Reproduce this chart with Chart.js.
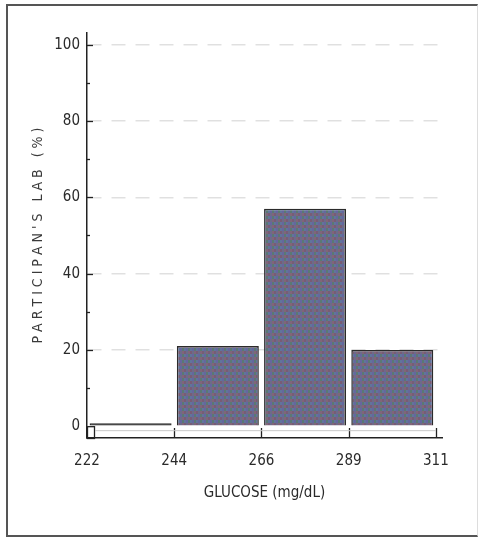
<!doctype html>
<html>

<head>
	<title>Glucose</title>
	<script src="https://cdn.jsdelivr.net/npm/chart.js@4/dist/chart.umd.min.js"></script>
	<style>
		html,
		body {
			margin: 0;
			padding: 0;
			background: #fff;
		}

		.wrapper {
			position: relative;
			width: 478px;
			height: 538px;
		}

		.frame {
			position: absolute;
			left: 6px;
			top: 4px;
			width: 469px;
			height: 529px;
			border-left: 2px solid #555;
			border-top: 2px solid #555;
			border-bottom: 2px solid #555;
			border-right: 1px solid #ddd;
			pointer-events: none;
		}
	</style>
</head>

<body>
	<div class="wrapper">
		<canvas id="chart-area" width="478" height="538"></canvas>
		<div class="frame"></div>
	</div>
	<script>
		// bin edges of the histogram (x tick labels)
		var binEdges = [222, 244, 266, 289, 311];
		// percent of participants per bin
		var percentValues = [0.8, 21, 57, 20];
		// y axis ticks
		var yTickValues = [0, 20, 40, 60, 80, 100];
		var yMinorTicks = [10, 30, 50, 70, 90];

		var labelFont = "'Liberation Sans Narrow', 'DejaVu Sans Condensed', 'Liberation Sans', sans-serif";

		// speckled fill similar to the scanned bars
		function makeFill() {
			var tile = document.createElement('canvas');
			tile.width = 12;
			tile.height = 12;
			var t = tile.getContext('2d');
			var cols = ['#66669f', '#785c76', '#5a7973', '#6c6c88', '#61749c', '#80657a'];
			for (var cx = 0; cx < 6; cx++) {
				for (var cy = 0; cy < 4; cy++) {
					t.fillStyle = cols[(cx * 2 + cy * 3) % cols.length];
					t.fillRect(cx * 2, cy * 3, 2, 3);
				}
			}
			return t.createPattern(tile, 'repeat');
		}

		var axisMarks = {
			id: 'axisMarks',
			afterDraw: function (chart) {
				var ctx = chart.ctx;
				var area = chart.chartArea;
				var x = chart.scales.x;
				var y = chart.scales.y;
				var y0 = y.getPixelForValue(0);
				ctx.save();
				ctx.strokeStyle = '#222';
				ctx.lineWidth = 1.3;
				yTickValues.forEach(function (v) {
					if (v === 0) return;
					var py = Math.round(y.getPixelForValue(v)) + 0.5;
					ctx.beginPath();
					ctx.moveTo(area.left, py);
					ctx.lineTo(area.left + 6, py);
					ctx.stroke();
				});
				yMinorTicks.forEach(function (v) {
					var py = Math.round(y.getPixelForValue(v)) + 0.5;
					ctx.beginPath();
					ctx.moveTo(area.left, py);
					ctx.lineTo(area.left + 3, py);
					ctx.stroke();
				});
				binEdges.forEach(function (e, i) {
					if (i === 0) return;
					var px = Math.round(x.getPixelForValue(i)) + 0.5;
					ctx.beginPath();
					ctx.moveTo(px, area.bottom);
					ctx.lineTo(px, area.bottom - 10);
					ctx.stroke();
				});
				// small box at the origin
				ctx.strokeRect(area.left + 0.5, y0 + 0.5, 7, area.bottom - y0);
				// faint inner line above the axis
				ctx.strokeStyle = '#c8c8c8';
				ctx.lineWidth = 1;
				ctx.beginPath();
				ctx.moveTo(area.left + 8, y0 + 4.5);
				ctx.lineTo(x.getPixelForValue(4), y0 + 4.5);
				ctx.stroke();
				ctx.restore();
			}
		};

		var ctx = document.getElementById('chart-area').getContext('2d');
		var fill = makeFill();

		var config = {
			type: 'bar',
			data: {
				datasets: [{
					label: 'Participants',
					data: percentValues.map(function (v, i) {
						return { x: i + 0.5, y: v };
					}),
					// the near-empty first bin shows as a dark line
					backgroundColor: ['#1e1e1e', fill, fill, fill],
					borderColor: '#2b2b2b',
					borderWidth: 1.5,
					barPercentage: 0.94,
					categoryPercentage: 1
				}]
			},
			options: {
				responsive: false,
				animation: false,
				events: [],
				layout: {
					padding: { left: 0, top: 33, right: 36, bottom: 0 }
				},
				plugins: {
					legend: { display: false },
					tooltip: { enabled: false }
				},
				scales: {
					x: {
						type: 'linear',
						offset: false,
						min: 0,
						max: 4.07,
						afterBuildTicks: function (scale) {
							scale.ticks = binEdges.map(function (e, i) { return { value: i }; });
						},
						afterFit: function (scale) {
							scale.height = 100;
						},
						grid: { display: false, drawTicks: false, offset: false },
						border: { display: true, color: '#222', width: 1.5 },
						ticks: {
							padding: 14,
							color: '#2a2a2a',
							font: { family: labelFont, size: 15 },
							maxRotation: 0,
							callback: function (v) {
								return binEdges[v];
							}
						},
						title: {
							display: true,
							text: 'GLUCOSE (mg/dL)',
							color: '#2a2a2a',
							font: { family: labelFont, size: 15 },
							padding: { top: 0, bottom: 36 }
						}
					},
					y: {
						min: -3.1,
						max: 103.1,
						afterBuildTicks: function (scale) {
							scale.ticks = yTickValues.map(function (v) { return { value: v }; });
						},
						afterFit: function (scale) {
							scale.width = 87;
						},
						grid: {
							drawTicks: false,
							color: function (c) {
								return c.tick && c.tick.value > 0 ? 'rgba(0,0,0,0.12)' : 'rgba(0,0,0,0)';
							},
							lineWidth: 1.5
						},
						border: { display: true, color: '#222', width: 1.5, dash: [14, 10] },
						ticks: {
							padding: 7,
							color: '#2a2a2a',
							font: { family: labelFont, size: 15 }
						},
						title: {
							display: true,
							text: "P A R T I C I P A N ' S   L A B   ( % )",
							color: '#3a3a3a',
							font: { family: labelFont, size: 14 },
							padding: { top: 30, bottom: 0 }
						}
					}
				}
			},
			plugins: [axisMarks]
		};

		window.myHist = new Chart(ctx, config);
	</script>
</body>

</html>
